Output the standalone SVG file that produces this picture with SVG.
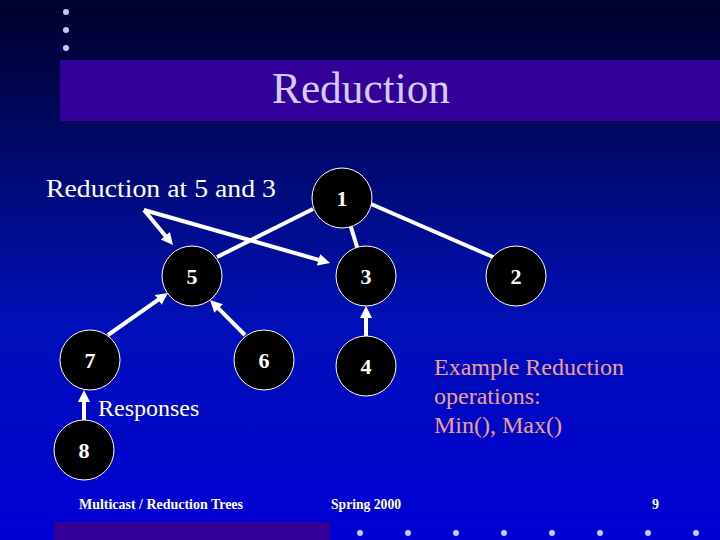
<svg xmlns="http://www.w3.org/2000/svg" width="720" height="540" viewBox="0 0 720 540">
<defs>
<linearGradient id="bg" x1="0" y1="0" x2="0" y2="1">
<stop offset="0" stop-color="#00002a"/>
<stop offset="0.3" stop-color="#000a70"/>
<stop offset="0.6" stop-color="#0010b8"/>
<stop offset="1" stop-color="#0000d4"/>
</linearGradient>
<marker id="ah" markerUnits="userSpaceOnUse" markerWidth="14" markerHeight="14" refX="2" refY="6" orient="auto">
<path d="M0,0 L12,6 L0,12 Z" fill="#ffffff"/>
</marker>
<style>
.node circle{fill:#000000;stroke:#ffffff;stroke-width:1}
.node text{fill:#ffffff;font-family:"Liberation Serif","Times New Roman",serif;font-size:22px;font-weight:bold;text-anchor:middle}
.conn line{stroke:#ffffff;stroke-width:4}
.conn line.arr{marker-end:url(#ah)}
.dot{fill:#c8c8ee}
.lbl{font-family:"Liberation Serif","Times New Roman",serif;fill:#ffffff}
.foot{font-family:"Liberation Serif","Times New Roman",serif;font-size:14px;font-weight:bold;fill:#ffffff}
</style>
</defs>
<rect x="0" y="0" width="720" height="540" fill="url(#bg)"/>
<rect x="60" y="60" width="660" height="61" fill="#330099"/>
<rect x="54" y="522" width="276" height="18" fill="#330099"/>
<g id="dots">
<circle class="dot" cx="66" cy="12" r="3"/>
<circle class="dot" cx="66" cy="30" r="3"/>
<circle class="dot" cx="66" cy="48" r="3"/>
<circle class="dot" cx="360" cy="533" r="3"/>
<circle class="dot" cx="408" cy="533" r="3"/>
<circle class="dot" cx="456" cy="533" r="3"/>
<circle class="dot" cx="504" cy="533" r="3"/>
<circle class="dot" cx="552" cy="533" r="3"/>
<circle class="dot" cx="600" cy="533" r="3"/>
<circle class="dot" cx="648" cy="533" r="3"/>
<circle class="dot" cx="696" cy="533" r="3"/>
</g>
<text x="361" y="103" text-anchor="middle" font-family="'Liberation Serif','Times New Roman',serif" font-size="44" fill="#d4ccf2" textLength="178" lengthAdjust="spacingAndGlyphs">Reduction</text>
<text class="lbl" x="46" y="197" font-size="26" textLength="230" lengthAdjust="spacingAndGlyphs">Reduction at 5 and 3</text>
<text class="lbl" x="98" y="416" font-size="24">Responses</text>
<g id="example" font-family="'Liberation Serif','Times New Roman',serif" font-size="24" fill="#f0a090">
<text x="434" y="375">Example Reduction</text>
<text x="434" y="404">operations:</text>
<text x="434" y="433">Min(), Max()</text>
</g>
<g id="connectors" class="conn">
<line x1="313" y1="209" x2="217" y2="257"/>
<line x1="350.8" y1="226.7" x2="357.2" y2="247.3"/>
<line x1="371" y1="204" x2="493" y2="257"/>
<line class="arr" x1="144" y1="210" x2="166.6" y2="237.3"/>
<line class="arr" x1="144" y1="210" x2="320.4" y2="260.3"/>
<line class="arr" x1="108" y1="335" x2="159.8" y2="298.7"/>
<line class="arr" x1="245" y1="335" x2="217.1" y2="307.1"/>
<line class="arr" x1="366" y1="336" x2="366" y2="316"/>
<line class="arr" x1="84" y1="420" x2="84" y2="400"/>
</g>
<g id="n1" class="node"><circle cx="342" cy="198" r="30"/><text x="342" y="206">1</text></g>
<g id="n5" class="node"><circle cx="192" cy="276" r="30"/><text x="192" y="284">5</text></g>
<g id="n3" class="node"><circle cx="366" cy="276" r="30"/><text x="366" y="284">3</text></g>
<g id="n2" class="node"><circle cx="516" cy="276" r="30"/><text x="516" y="284">2</text></g>
<g id="n7" class="node"><circle cx="90" cy="360" r="30"/><text x="90" y="368">7</text></g>
<g id="n6" class="node"><circle cx="264" cy="360" r="30"/><text x="264" y="368">6</text></g>
<g id="n4" class="node"><circle cx="366" cy="366" r="30"/><text x="366" y="374">4</text></g>
<g id="n8" class="node"><circle cx="84" cy="450" r="30"/><text x="84" y="458">8</text></g>
<text class="foot" x="79" y="509" textLength="164" lengthAdjust="spacingAndGlyphs">Multicast / Reduction Trees</text>
<text class="foot" x="331" y="509" textLength="70" lengthAdjust="spacingAndGlyphs">Spring 2000</text>
<text class="foot" x="652" y="509" font-weight="normal">9</text>
</svg>
